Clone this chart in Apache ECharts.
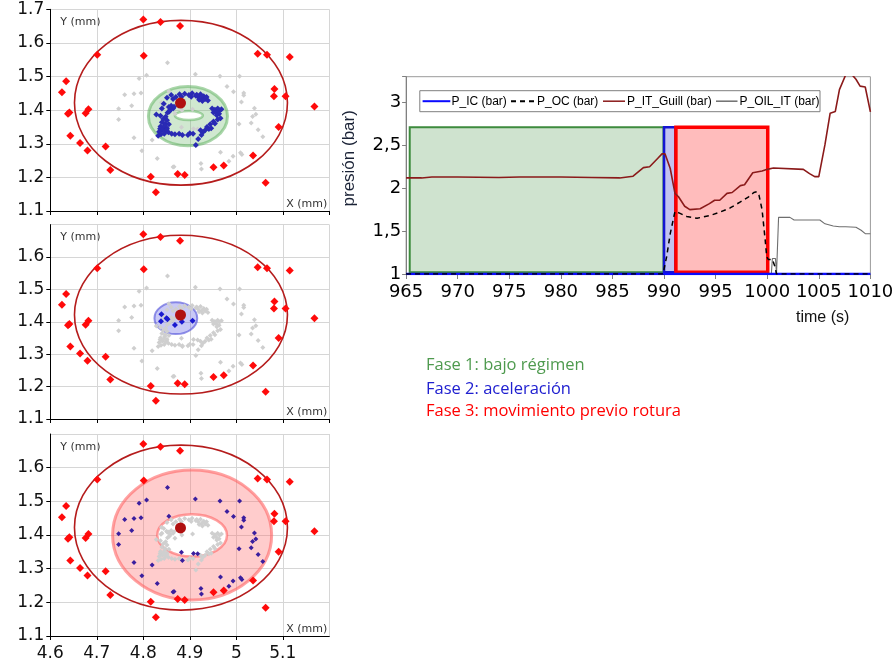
<!DOCTYPE html>
<html><head><meta charset="utf-8">
<script src="https://cdn.jsdelivr.net/npm/echarts@6/dist/echarts.min.js"></script>
<style>html,body{margin:0;padding:0;background:#fff}#c{width:893px;height:667px}</style>
</head><body><div id="c"></div>
<script>
// ================= DATA =================
// Scatter panels (X mm, Y mm)
const outerPoints = [[4.800,1.670],[4.837,1.662],[4.879,1.650],[4.701,1.565],[4.801,1.562],[5.046,1.568],[5.066,1.565],[5.115,1.558],[4.634,1.486],[4.625,1.453],[5.082,1.463],[5.081,1.441],[5.106,1.441],[4.641,1.393],[4.638,1.389],[4.676,1.391],[4.682,1.403],[4.643,1.324],[4.664,1.302],[4.680,1.280],[4.719,1.292],[5.091,1.350],[4.729,1.222],[5.036,1.265],[4.816,1.202],[4.874,1.210],[4.889,1.207],[4.951,1.230],[4.973,1.235],[4.827,1.156],[5.063,1.184],[5.168,1.411]];
const centerPoint = [[4.880,1.421]];
const phase1Points = [[4.851,1.437],[4.860,1.445],[4.864,1.433],[4.870,1.439],[4.878,1.447],[4.889,1.449],[4.898,1.445],[4.905,1.450],[4.913,1.443],[4.918,1.439],[4.923,1.447],[4.926,1.435],[4.930,1.441],[4.933,1.433],[4.927,1.427],[4.936,1.439],[4.920,1.431],[4.939,1.429],[4.915,1.446],[4.903,1.440],[4.882,1.440],
[4.844,1.419],[4.840,1.405],[4.855,1.409],[4.860,1.413],[4.864,1.405],[4.858,1.401],[4.856,1.396],[4.852,1.392],[4.866,1.410],[4.828,1.387],[4.837,1.383],[4.848,1.380],
[4.843,1.374],[4.851,1.370],[4.840,1.364],[4.847,1.360],[4.855,1.358],[4.846,1.355],[4.837,1.351],[4.844,1.348],[4.851,1.346],[4.836,1.345],[4.850,1.342],[4.841,1.340],[4.848,1.338],[4.834,1.336],[4.838,1.328],[4.845,1.330],[4.832,1.324],[4.854,1.334],
[4.861,1.330],[4.868,1.328],[4.877,1.330],[4.884,1.326],[4.900,1.331],[4.907,1.330],[4.918,1.314],[4.913,1.296],[4.896,1.326],
[4.948,1.405],[4.954,1.401],[4.960,1.405],[4.964,1.399],[4.968,1.403],[4.957,1.393],[4.951,1.393],[4.963,1.389],[4.958,1.385],[4.960,1.372],[4.966,1.376],[4.951,1.366],[4.954,1.360],[4.944,1.358],[4.937,1.350],[4.941,1.344],[4.946,1.346],[4.933,1.340],[4.928,1.334],[4.923,1.340],[4.925,1.326]];
const phase2Points = [[4.839,1.423],[4.838,1.402],[4.850,1.411],[4.852,1.408],[4.868,1.390],[4.883,1.400],[4.906,1.403]];
const phase3Points = [[4.852,1.541],[4.912,1.507],[4.807,1.504],[4.791,1.494],[4.965,1.501],[5.007,1.501],[4.980,1.470],[4.994,1.455],[5.016,1.451],[5.016,1.444],[4.760,1.446],[4.780,1.449],[4.795,1.451],[4.855,1.456],[4.775,1.413],[4.747,1.404],[4.747,1.372],[5.011,1.424],[5.039,1.406],[5.042,1.388],[5.035,1.381],[5.032,1.362],[5.006,1.359],[5.047,1.342],[5.057,1.321],[4.882,1.349],[4.908,1.345],[4.917,1.344],[4.884,1.324],[4.780,1.318],[4.819,1.311],[4.797,1.279],[4.830,1.256],[4.864,1.231],[4.866,1.232],[4.924,1.241],[4.925,1.225],[4.966,1.275],[4.984,1.248],[4.993,1.263],[5.009,1.273],[5.012,1.268]];
// ellipses: [cx, cy, rx, ry]
const redEllipse = [4.881, 1.422, 0.229, 0.245];
const greenOuter = [4.896, 1.382, 0.085, 0.088];
const greenInner = [4.898, 1.384, 0.030, 0.0135];
const blueEllipse = [4.870, 1.411, 0.046, 0.049];
const pinkOuter = [4.905, 1.400, 0.171, 0.193];
const pinkInner = [4.905, 1.399, 0.075, 0.063];
const panelXTicks = [4.6, 5.2, 0.1];  // min, max, step
const panelYTicks = [1.1, 1.7, 0.1];

// Pressure chart (time s, bar)
const tIC = [965, 1010];
const pIC = [1.0, 1.0];
const tOC = [965, 989.9, 990.25, 990.6, 991.06, 991.5, 992.2, 993.2, 994.4, 995.4, 996.4, 997.4, 998.2, 998.7, 999.0, 999.2, 999.5, 999.8, 999.95, 1000.1, 1000.5, 1000.75, 1000.9, 1010];
const pOC = [1.0, 1.0, 1.2, 1.47, 1.73, 1.71, 1.67, 1.65, 1.68, 1.72, 1.77, 1.84, 1.90, 1.95, 1.96, 1.92, 1.75, 1.40, 1.20, 1.17, 1.17, 1.085, 1.0, 1.0];
const tGuill = [965, 966.5, 967.5, 970, 974, 976, 980, 983, 985.7, 987.0, 988.0, 988.6, 989.4, 989.8, 990.1, 990.6, 991.06, 991.4, 992.0, 992.5, 993.5, 994.4, 994.9, 995.4, 996.1, 996.6, 997.4, 997.8, 998.6, 999.5, 1000.0, 1000.6, 1003.5, 1004.1, 1004.6, 1005.0, 1005.6, 1006.1, 1006.6, 1007.0, 1007.6, 1008.1, 1008.6, 1009.0, 1009.5, 1010];
const pGuill = [2.12, 2.12, 2.13, 2.13, 2.125, 2.13, 2.13, 2.125, 2.12, 2.14, 2.24, 2.25, 2.35, 2.40, 2.40, 2.23, 1.94, 1.90, 1.79, 1.75, 1.76, 1.82, 1.86, 1.86, 1.94, 1.95, 2.03, 2.04, 2.18, 2.20, 2.22, 2.235, 2.22, 2.17, 2.135, 2.135, 2.51, 2.875, 2.895, 3.15, 3.32, 3.34, 3.27, 3.19, 3.18, 2.89];
const tOil = [965, 1000.4, 1000.5, 1000.8, 1000.9, 1001.1, 1002.2, 1002.6, 1005.1, 1005.6, 1006.4, 1007.0, 1007.6, 1008.6, 1009.1, 1009.5, 1010];
const pOil = [1.0, 1.0, 1.18, 1.18, 1.0, 1.66, 1.66, 1.63, 1.63, 1.585, 1.56, 1.55, 1.55, 1.545, 1.51, 1.47, 1.47];
const seriesNames = ['P_IC (bar)', 'P_OC (bar)', 'P_IT_Guill (bar)', 'P_OIL_IT (bar)'];
const phaseStart = [965.35, 990.0, 991.15];
const phaseEnd = [989.95, 991.1, 1000.05];
const phaseLow = [1.02, 1.02, 1.02];
const phaseHigh = [2.71, 2.71, 2.71];
const phaseLabels = ['Fase 1: bajo régimen', 'Fase 2: aceleración', 'Fase 3: movimiento previo rotura'];

// ================= STYLE / LAYOUT =================
const panels = [
  {left: 50.3, top: 9.3, width: 279, height: 201.7},
  {left: 50.3, top: 224.6, width: 279, height: 194.4},
  {left: 50.3, top: 434, width: 279, height: 202}
];
const lineGrid = {left: 406.1, top: 76.7, width: 464.3, height: 197.3};
const tickFont = 'DejaVu Sans';

const zip = (a, b) => a.map((v, i) => [v, b[i]]);

function ellipseSeries(idx, e, fill, stroke, lw, z) {
  return {
    type: 'custom', coordinateSystem: 'cartesian2d', xAxisIndex: idx, yAxisIndex: idx,
    silent: true, z: z, clip: false, data: [e], encode: {x: 0, y: 1},
    renderItem: function (p, api) {
      const c = api.coord([api.value(0), api.value(1)]);
      const s = api.size([api.value(2), api.value(3)]);
      return {type: 'ellipse', shape: {cx: c[0], cy: c[1], rx: s[0], ry: s[1]},
              style: {fill: fill, stroke: stroke, lineWidth: lw}};
    }
  };
}
function scatter(idx, data, symbol, size, color, z) {
  return {type: 'scatter', xAxisIndex: idx, yAxisIndex: idx, data: data, symbol: symbol,
          symbolSize: size, itemStyle: {color: color, opacity: 1}, silent: true, z: z};
}

const grids = panels.map(p => Object.assign({containLabel: false, outerBoundsMode: 'none'}, p));
grids.push(Object.assign({containLabel: false, outerBoundsMode: 'none', show: true, borderColor: '#9a9a9a', borderWidth: 1}, lineGrid));

const xAxes = panels.map((p, i) => ({
  type: 'value', gridIndex: i, min: panelXTicks[0], max: panelXTicks[1], interval: panelXTicks[2],
  axisLine: {show: true, onZero: false, lineStyle: {color: '#000', width: 1}},
  axisTick: {show: true, length: 4, lineStyle: {color: '#000'}},
  splitLine: {show: true, lineStyle: {color: '#d6d6d6', width: 1}},
  axisLabel: {show: i === 2, showMaxLabel: false, margin: 9, color: '#111', fontFamily: tickFont, fontSize: 17,
    formatter: v => String(Math.round(v * 10) / 10)}
}));
xAxes.push({
  type: 'value', gridIndex: 3, min: 965, max: 1010, interval: 5,
  axisLine: {show: true, onZero: false, lineStyle: {color: '#808080'}},
  axisTick: {show: true, length: 5, lineStyle: {color: '#808080'}},
  splitLine: {show: false},
  axisLabel: {color: '#000', fontFamily: tickFont, fontSize: 18, margin: 9, formatter: v => String(Math.round(v))}
});
const yAxes = panels.map((p, i) => ({
  type: 'value', gridIndex: i, min: panelYTicks[0], max: panelYTicks[1], interval: panelYTicks[2],
  axisLine: {show: true, onZero: false, lineStyle: {color: '#000', width: 1}},
  axisTick: {show: true, length: 4, lineStyle: {color: '#000'}},
  splitLine: {show: true, lineStyle: {color: '#d6d6d6', width: 1}},
  axisLabel: {show: true, showMaxLabel: i === 0, margin: 6, color: '#111', fontFamily: tickFont, fontSize: 17,
    formatter: v => (Math.round(v * 10) / 10).toFixed(1)}
}));
yAxes.push({
  type: 'value', gridIndex: 3, min: 1, max: 3.3, interval: 0.5,
  axisLine: {show: true, onZero: false, lineStyle: {color: '#808080'}},
  axisTick: {show: true, length: 4, lineStyle: {color: '#808080'}},
  splitLine: {show: false},
  axisLabel: {color: '#000', fontFamily: tickFont, fontSize: 18, margin: 5,
    formatter: v => (Math.abs(v * 2 - Math.round(v * 2)) < 1e-6 ? String(v).replace('.', ',') : '')}
});

const series = [];
// Panel 1: phase 1
series.push(ellipseSeries(0, greenOuter, 'rgba(100,180,100,0.30)', 'rgba(100,180,100,0.55)', 3, 1));
series.push(ellipseSeries(0, greenInner, '#ffffff', 'rgba(100,180,100,0.55)', 2.5, 1));
series.push(ellipseSeries(0, redEllipse, null, '#b51c1c', 1.6, 2));
series.push(scatter(0, phase2Points.concat(phase3Points), 'diamond', 5, '#cfcfcf', 3));
series.push(scatter(0, phase1Points, 'diamond', 6, '#2a2ab4', 4));
// Panel 2: phase 2
series.push(ellipseSeries(1, blueEllipse, 'rgba(100,100,230,0.35)', 'rgba(90,90,220,0.65)', 2, 1));
series.push(ellipseSeries(1, redEllipse, null, '#b51c1c', 1.6, 2));
series.push(scatter(1, phase1Points.concat(phase3Points), 'diamond', 5, '#cfcfcf', 3));
series.push(scatter(1, phase2Points, 'diamond', 6, '#1a1ad0', 4));
// Panel 3: phase 3
series.push(ellipseSeries(2, pinkOuter, 'rgba(255,110,110,0.35)', 'rgba(255,100,100,0.6)', 3, 1));
series.push(ellipseSeries(2, pinkInner, '#ffffff', 'rgba(255,100,100,0.6)', 2.5, 1));
series.push(ellipseSeries(2, redEllipse, null, '#b51c1c', 1.6, 2));
series.push(scatter(2, phase1Points.concat(phase2Points), 'diamond', 5, '#cfcfcf', 3));
series.push(scatter(2, phase3Points, 'diamond', 5, '#3a1e9e', 4));
// outer points and centre in all panels
for (let i = 0; i < 3; i++) {
  series.push(scatter(i, outerPoints, 'diamond', 8, '#ff0a0a', 5));
  series.push(scatter(i, centerPoint, 'circle', 11, '#b01010', 6));
}
// Pressure chart: phase rectangles
const phaseFill = ['#cfe3cf', '#c3c3f0', '#ffbcbc'];
const phaseStroke = ['#3d8b3d', '#1414d2', '#ff0000'];
const phaseLw = [2, 2.5, 3.5];
series.push({
  type: 'custom', coordinateSystem: 'cartesian2d', xAxisIndex: 3, yAxisIndex: 3, silent: true, z: 1,
  data: phaseStart.map((s, i) => [s, phaseEnd[i], phaseLow[i], phaseHigh[i]]),
  encode: {x: [0, 1], y: [2, 3]},
  renderItem: function (p, api) {
    const a = api.coord([api.value(0), api.value(3)]);
    const b = api.coord([api.value(1), api.value(2)]);
    const i = p.dataIndex;
    return {type: 'rect', shape: {x: a[0], y: a[1], width: b[0] - a[0], height: b[1] - a[1]},
            style: {fill: phaseFill[i], stroke: phaseStroke[i], lineWidth: phaseLw[i]}};
  }
});
const lineStyles = [
  {color: '#0a0aff', width: 2.5, type: 'solid'},
  {color: '#000000', width: 1.5, type: [5, 4]},
  {color: '#8b1a1a', width: 1.6, type: 'solid'},
  {color: '#6e6e6e', width: 1.1, type: 'solid'}
];
const lineData = [zip(tIC, pIC), zip(tOC, pOC), zip(tGuill, pGuill), zip(tOil, pOil)];
seriesNames.forEach((n, i) => {
  series.push({type: 'line', name: n, xAxisIndex: 3, yAxisIndex: 3, data: lineData[i], symbol: 'none',
    showSymbol: false, lineStyle: lineStyles[i], itemStyle: {color: lineStyles[i].color}, z: 3 + (i === 1 ? 2 : i === 0 ? 1 : 0),
    clip: true, silent: true});
});

const graphics = [];
panels.forEach(p => {
  graphics.push({type: 'text', x: p.left + 10, y: p.top + 13, silent: true,
    style: {text: 'Y (mm)', fill: '#333', font: '11px "DejaVu Sans"', textAlign: 'left', textVerticalAlign: 'middle'}});
  graphics.push({type: 'text', x: p.left + p.width - 2, y: p.top + p.height - 7, silent: true,
    style: {text: 'X (mm)', fill: '#333', font: '11px "DejaVu Sans"', textAlign: 'right', textVerticalAlign: 'middle'}});
});
graphics.push({type: 'text', x: 349.7, y: 158.3, rotation: Math.PI / 2, silent: true,
  style: {text: 'presión (bar)', fill: '#1a2236', font: '17px "Liberation Sans"', textAlign: 'center', textVerticalAlign: 'middle'}});
graphics.push({type: 'text', x: 796, y: 318, silent: true,
  style: {text: 'time (s)', fill: '#111', font: '16px "Liberation Sans"', textAlign: 'left', textVerticalAlign: 'middle'}});
// legend box drawn manually (line samples + series names)
const legendBox = {x: 419.8, y: 90.7, w: 400.2, h: 21};
const legendSample = [[422.6, 450.3], [511, 535], [603, 625], [716, 737.5]];
const legendTextX = [451.5, 537, 627, 739.5];
graphics.push({type: 'rect', shape: {x: legendBox.x, y: legendBox.y, width: legendBox.w, height: legendBox.h},
  style: {fill: '#fff', stroke: '#7f7f7f', lineWidth: 1}, z: 10, silent: true});
seriesNames.forEach((n, i) => {
  const ls = lineStyles[i];
  graphics.push({type: 'line', shape: {x1: legendSample[i][0], y1: legendBox.y + 10.5, x2: legendSample[i][1], y2: legendBox.y + 10.5},
    style: {stroke: ls.color, lineWidth: i === 0 ? 2 : (i === 1 ? 2 : 1.5), lineDash: i === 1 ? [5, 4] : null}, z: 11, silent: true});
  graphics.push({type: 'text', x: legendTextX[i], y: legendBox.y + 10.5, z: 11, silent: true,
    style: {text: n, fill: '#000', font: '12px "Liberation Sans"', textAlign: 'left', textVerticalAlign: 'middle'}});
});
const phaseTextColor = ['#4e9a4e', '#2020d0', '#ff0000'];
const phaseTextY = [365, 389, 411];
phaseLabels.forEach((t, i) => {
  graphics.push({type: 'text', x: 426, y: phaseTextY[i], silent: true,
    style: {text: t, fill: phaseTextColor[i], font: '16.5px "Open Sans"', textAlign: 'left', textVerticalAlign: 'middle'}});
});

const chart = echarts.init(document.getElementById('c'), null, {renderer: 'canvas'});
chart.setOption({
  animation: false,
  backgroundColor: '#ffffff',
  grid: grids,
  xAxis: xAxes,
  yAxis: yAxes,
  series: series,
  graphic: graphics
});
</script></body></html>
